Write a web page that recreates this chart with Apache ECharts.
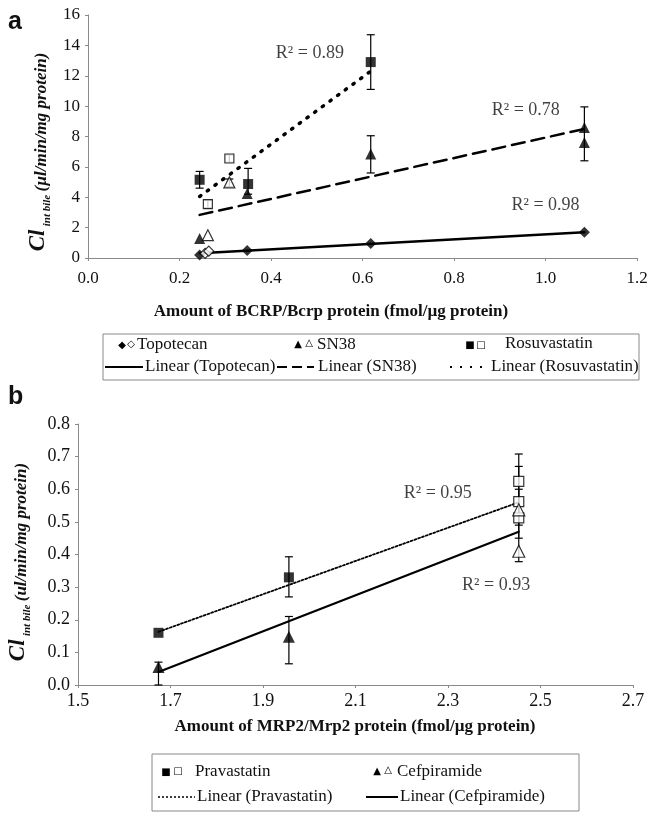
<!DOCTYPE html>
<html><head><meta charset="utf-8">
<script src="https://cdn.jsdelivr.net/npm/echarts@6/dist/echarts.min.js"></script>
<style>html,body{margin:0;padding:0;background:#fff}#c{width:648px;height:819px}</style>
</head><body><div id="c"></div>
<script>
// ---------- Panel a data ----------
const topoFilled = [[0.244,0.2],[0.348,0.5],[0.618,0.95],[1.085,1.7]];
const topoOpen   = [[0.256,0.3],[0.264,0.45]];
const sn38Filled = [[0.244,1.28],[0.348,4.25],[0.618,6.85],[1.085,8.6],[1.085,7.6]];
const sn38Open   = [[0.262,1.5],[0.309,4.98]];
const rosuFilled = [[0.244,5.15],[0.35,4.87],[0.618,12.9]];
const rosuOpen   = [[0.262,3.55],[0.309,6.55]];
const errA = [[0.244,4.6,5.7],[0.35,4.2,5.9],[0.618,11.1,14.7],[0.618,5.6,8.05],[1.085,6.4,9.95],[0.262,3.3,3.8],[0.309,6.3,6.8],[0.309,4.7,5.2]];
const trendTopo = [[0.244,0.31],[1.085,1.7]];
const trendSn38 = [[0.244,2.84],[1.085,8.5]];
const trendRosu = [[0.244,4.05],[0.618,12.3]];
const r2A = [[0.485,13.5,'R² = 0.89'],[0.957,9.75,'R² = 0.78'],[1.0,3.5,'R² = 0.98']];
const xTicksA = ['0.0','0.2','0.4','0.6','0.8','1.0','1.2'];
const yTicksA = ['0','2','4','6','8','10','12','14','16'];

// ---------- Panel b data ----------
const pravaFilled = [[1.674,0.16],[1.956,0.33]];
const pravaOpen   = [[2.453,0.624],[2.453,0.562],[2.453,0.512]];
const cefFilled   = [[1.674,0.055],[1.956,0.148]];
const cefOpen     = [[2.453,0.537],[2.453,0.41]];
const errB = [[1.956,0.27,0.393],[1.674,0.0,0.07],[1.956,0.065,0.21],[2.453,0.45,0.708],[2.453,0.49,0.67],[2.453,0.378,0.6]];
const trendPrava = [[1.674,0.163],[2.453,0.56]];
const trendCef   = [[1.674,0.04],[2.453,0.47]];
const r2B = [[2.278,0.589,'R² = 0.95'],[2.404,0.307,'R² = 0.93']];
const xTicksB = ['1.5','1.7','1.9','2.1','2.3','2.5','2.7'];
const yTicksB = ['0.0','0.1','0.2','0.3','0.4','0.5','0.6','0.7','0.8'];

const SERIF = '"Liberation Serif","Times New Roman",serif';
const AX = '#8a8a8a';

function axisCommon(labels, min, interval, fs, margin) {
  return {
    axisLine: {show: true, lineStyle: {color: AX, width: 1}},
    axisTick: {show: true, length: 3, lineStyle: {color: AX}},
    splitLine: {show: false},
    axisLabel: {color: '#111', fontFamily: SERIF, fontSize: fs, margin: margin,
      formatter: v => labels[Math.round((v - min) / interval)]}
  };
}

function errSeries(data, xi, yi) {
  return {
    type: 'custom', xAxisIndex: xi, yAxisIndex: yi, data: data, silent: true, z: 2,
    encode: {x: 0, y: [1, 2]},
    renderItem: function (params, api) {
      const x = api.value(0);
      const lo = api.coord([x, api.value(1)]);
      const hi = api.coord([x, api.value(2)]);
      const w = 4, st = {stroke: '#000', lineWidth: 1.2};
      return {type: 'group', children: [
        {type: 'line', shape: {x1: lo[0], y1: lo[1], x2: hi[0], y2: hi[1]}, style: st},
        {type: 'line', shape: {x1: lo[0]-w, y1: lo[1], x2: lo[0]+w, y2: lo[1]}, style: st},
        {type: 'line', shape: {x1: hi[0]-w, y1: hi[1], x2: hi[0]+w, y2: hi[1]}, style: st}
      ]};
    }
  };
}
function pts(data, symbol, size, xi, yi, open) {
  return {type: 'scatter', xAxisIndex: xi, yAxisIndex: yi, data: data, symbol: symbol, symbolSize: size, z: 4,
    itemStyle: open ? {color: '#fff', borderColor: '#000', borderWidth: 1.2} : {color: '#000'}};
}
function trend(data, type, width, xi, yi) {
  return {type: 'line', xAxisIndex: xi, yAxisIndex: yi, data: data, symbol: 'none', z: 3,
    lineStyle: {color: '#000', width: width, type: type, cap: 'round'}};
}
function r2(data, xi, yi) {
  return {type: 'scatter', xAxisIndex: xi, yAxisIndex: yi, data: data, symbolSize: 1, z: 5,
    itemStyle: {color: 'rgba(0,0,0,0)'},
    label: {show: true, position: 'inside', color: '#111', fontFamily: SERIF, fontSize: 18,
      formatter: p => p.data[2]}};
}

const chart = echarts.init(document.getElementById('c'), null, {renderer: 'canvas'});

const titleRich = {
  cl: {fontFamily: SERIF, fontStyle: 'italic', fontWeight: 'bold', fontSize: 23, verticalAlign: 'bottom', padding: [0,0,3,0], fill: '#111'},
  sub: {fontFamily: SERIF, fontStyle: 'italic', fontWeight: 'bold', fontSize: 11, verticalAlign: 'bottom', fill: '#111'},
  t: {fontFamily: SERIF, fontStyle: 'italic', fontWeight: 'bold', fontSize: 17, verticalAlign: 'bottom', padding: [0,0,3,0], fill: '#111'}
};

function legendGraphics(box, items) {
  const g = [{type: 'rect', shape: box, style: {fill: 'none', stroke: '#888', lineWidth: 1}}];
  items.forEach(it => g.push(it));
  return g;
}
const LT = {fontFamily: SERIF, fontSize: 17, fill: '#111'};
function txt(x, y, s, extra) {
  return {type: 'text', x: x, y: y, style: Object.assign({text: s, verticalAlign: 'middle'}, LT, extra || {})};
}
function sym(x, y, s, fs) {
  return {type: 'text', x: x, y: y, style: {text: s, fontFamily: '"DejaVu Sans"', fontSize: fs || 10, fill: '#000', align: 'center', verticalAlign: 'middle'}};
}
function ln(x1, x2, y, dash, w) {
  return {type: 'line', shape: {x1: x1, y1: y, x2: x2, y2: y}, style: {stroke: '#000', lineWidth: w || 2, lineDash: dash || null}};
}

const graphics = [
  {type: 'text', x: 8, y: 10, style: {text: 'a', fontFamily: '"Liberation Sans",Arial,sans-serif', fontWeight: 'bold', fontSize: 25, fill: '#111'}},
  {type: 'text', x: 8, y: 385, style: {text: 'b', fontFamily: '"Liberation Sans",Arial,sans-serif', fontWeight: 'bold', fontSize: 25, fill: '#111'}},
  {type: 'text', x: 40, y: 152, rotation: Math.PI / 2,
    style: {text: '{cl|Cl} {sub|int bile} {t|(µl/min/mg protein)}', rich: titleRich, align: 'center', verticalAlign: 'middle'}},
  {type: 'text', x: 20, y: 562, rotation: Math.PI / 2,
    style: {text: '{cl|Cl} {sub|int bile} {t|(ul/min/mg protein)}', rich: titleRich, align: 'center', verticalAlign: 'middle'}},
  {type: 'text', x: 331, y: 312, style: {text: 'Amount of BCRP/Bcrp protein (fmol/µg protein)', fontFamily: SERIF, fontWeight: 'bold', fontSize: 17, fill: '#111', align: 'center', verticalAlign: 'middle'}},
  {type: 'text', x: 355, y: 727, style: {text: 'Amount of MRP2/Mrp2 protein (fmol/µg protein)', fontFamily: SERIF, fontWeight: 'bold', fontSize: 17, fill: '#111', align: 'center', verticalAlign: 'middle'}}
].concat(legendGraphics({x: 103, y: 334, width: 536, height: 46}, [
  sym(122, 345, '◆'), sym(131, 344, '◇'), txt(137, 345, 'Topotecan'),
  sym(298, 344, '▲'), sym(309, 343, '△'), txt(317, 345, 'SN38'),
  sym(470, 345, '■'), sym(481, 345, '□'), txt(505, 344, 'Rosuvastatin'),
  ln(105, 143, 367, null, 2), txt(145, 367, 'Linear (Topotecan)'),
  ln(277, 314, 367, [10, 5], 2), txt(318, 367, 'Linear (SN38)'),
  ln(450, 488, 367, [2, 8], 2), txt(491, 367, 'Linear (Rosuvastatin)')
])).concat(legendGraphics({x: 152, y: 754, width: 427, height: 57}, [
  sym(166, 772, '■'), sym(178, 771, '□'), txt(195, 772, 'Pravastatin'),
  sym(377, 771, '▲'), sym(388, 770, '△'), txt(397, 772, 'Cefpiramide'),
  ln(158, 195, 797, [2, 2], 1.5), txt(197, 797, 'Linear (Pravastatin)'),
  ln(366, 398, 797, null, 2), txt(400, 797, 'Linear (Cefpiramide)')
]));

const option = {
  backgroundColor: '#fff',
  animation: false,
  grid: [
    {left: 88, top: 15, width: 549, height: 243, outerBoundsMode: 'none'},
    {left: 78, top: 424, width: 555, height: 261, outerBoundsMode: 'none'}
  ],
  xAxis: [
    Object.assign({type: 'value', gridIndex: 0, min: 0, max: 1.2, interval: 0.2}, axisCommon(xTicksA, 0, 0.2, 17, 12)),
    Object.assign({type: 'value', gridIndex: 1, min: 1.5, max: 2.7, interval: 0.2}, axisCommon(xTicksB, 1.5, 0.2, 18, 7))
  ],
  yAxis: [
    Object.assign({type: 'value', gridIndex: 0, min: 0, max: 16, interval: 2}, axisCommon(yTicksA, 0, 2, 17, 8)),
    Object.assign({type: 'value', gridIndex: 1, min: 0, max: 0.8, interval: 0.1}, axisCommon(yTicksB, 0, 0.1, 18, 8))
  ],
  graphic: graphics,
  series: [
    errSeries(errA, 0, 0),
    trend(trendTopo, 'solid', 2.5, 0, 0),
    trend(trendSn38, [13, 7], 2.5, 0, 0),
    trend(trendRosu, [1.5, 8], 3.5, 0, 0),
    pts(topoFilled, 'diamond', 11, 0, 0, false),
    pts(topoOpen, 'diamond', 10, 0, 0, true),
    pts(sn38Filled, 'triangle', 11, 0, 0, false),
    pts(sn38Open, 'triangle', 11, 0, 0, true),
    pts(rosuFilled, 'rect', 10, 0, 0, false),
    pts(rosuOpen, 'rect', 9, 0, 0, true),
    r2(r2A, 0, 0),
    errSeries(errB, 1, 1),
    trend(trendPrava, [2, 2], 1.8, 1, 1),
    trend(trendCef, 'solid', 2.2, 1, 1),
    pts(pravaFilled, 'rect', 10, 1, 1, false),
    pts(pravaOpen, 'rect', 10, 1, 1, true),
    pts(cefFilled, 'triangle', 12, 1, 1, false),
    pts(cefOpen, 'triangle', 12, 1, 1, true),
    r2(r2B, 1, 1)
  ]
};
chart.setOption(option);
</script></body></html>
